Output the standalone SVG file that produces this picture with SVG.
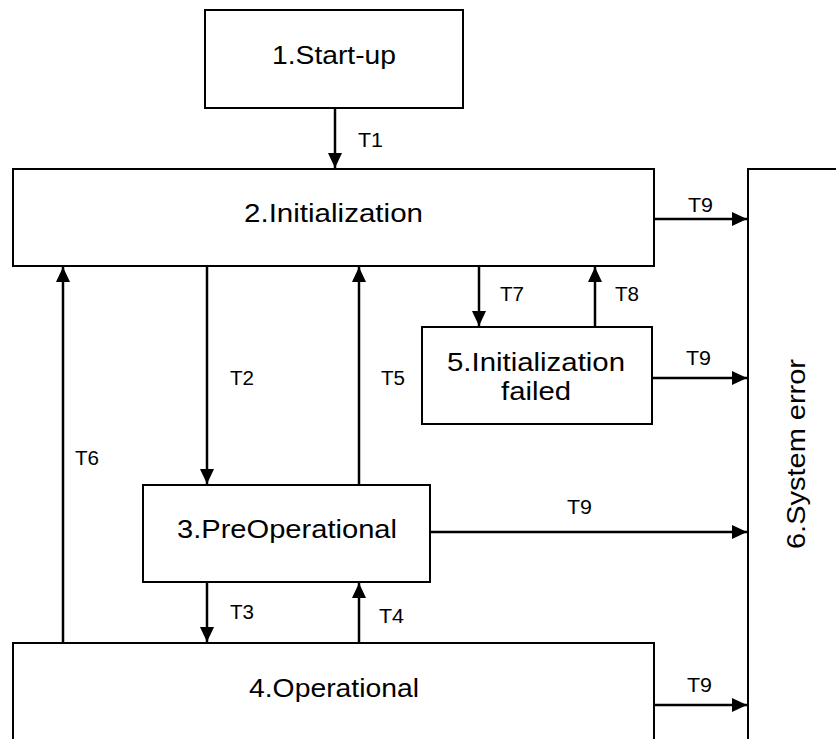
<svg xmlns="http://www.w3.org/2000/svg" width="836" height="739" viewBox="0 0 836 739">
  <style>
    .box { fill: #ffffff; stroke: #000000; stroke-width: 2; }
    .lbl { font-family: "Liberation Sans", Arial, sans-serif; font-size: 26px; fill: #000000; text-anchor: middle; }
    .tl { font-family: "Liberation Sans", Arial, sans-serif; font-size: 20px; fill: #000000; }
    .edge { fill: none; stroke: #000000; stroke-width: 2.5; marker-end: url(#arrow); }
  </style>
  <defs>
    <marker id="arrow" markerUnits="userSpaceOnUse" markerWidth="16" markerHeight="16" viewBox="0 0 16 16" refX="15" refY="8" orient="auto">
      <path d="M0,1 L15,8 L0,15 Z" fill="#000000"/>
    </marker>
  </defs>
  <rect width="836" height="739" fill="#ffffff"/>

  <g id="node-startup">
    <rect class="box" x="205" y="10" width="258" height="98"/>
    <text class="lbl" x="334" y="64" textLength="124" lengthAdjust="spacingAndGlyphs">1.Start-up</text>
  </g>

  <g id="node-initialization">
    <rect class="box" x="13" y="169" width="641" height="97"/>
    <text class="lbl" x="333.5" y="222" textLength="179" lengthAdjust="spacingAndGlyphs">2.Initialization</text>
  </g>

  <g id="node-preoperational">
    <rect class="box" x="143" y="485" width="287" height="97"/>
    <text class="lbl" x="287" y="538" textLength="220" lengthAdjust="spacingAndGlyphs">3.PreOperational</text>
  </g>

  <g id="node-operational">
    <rect class="box" x="13" y="643" width="641" height="120"/>
    <text class="lbl" x="334" y="697" textLength="170" lengthAdjust="spacingAndGlyphs">4.Operational</text>
  </g>

  <g id="node-init-failed">
    <rect class="box" x="422" y="327" width="230" height="97"/>
    <text class="lbl" x="536" y="371" textLength="178" lengthAdjust="spacingAndGlyphs">5.Initialization</text>
    <text class="lbl" x="536" y="400" textLength="70" lengthAdjust="spacingAndGlyphs">failed</text>
  </g>

  <g id="node-system-error">
    <rect class="box" x="748" y="169" width="110" height="600"/>
    <text class="lbl" transform="translate(805,454) rotate(-90)" x="0" y="0" textLength="190" lengthAdjust="spacingAndGlyphs">6.System error</text>
  </g>

  <g id="connectors">
    <path class="edge" d="M335,108 V168"/>
    <path class="edge" d="M207,266 V484"/>
    <path class="edge" d="M359,485 V267"/>
    <path class="edge" d="M63,643 V267"/>
    <path class="edge" d="M479,266 V326"/>
    <path class="edge" d="M595,327 V267"/>
    <path class="edge" d="M207,582 V642"/>
    <path class="edge" d="M359,643 V583"/>
    <path class="edge" d="M654,219 H747"/>
    <path class="edge" d="M652,378 H747"/>
    <path class="edge" d="M430,532 H747"/>
    <path class="edge" d="M654,705 H747"/>

    <text class="tl" x="358" y="147" textLength="25" lengthAdjust="spacingAndGlyphs">T1</text>
    <text class="tl" x="230" y="385" textLength="24" lengthAdjust="spacingAndGlyphs">T2</text>
    <text class="tl" x="381" y="385" textLength="24" lengthAdjust="spacingAndGlyphs">T5</text>
    <text class="tl" x="75" y="465" textLength="24" lengthAdjust="spacingAndGlyphs">T6</text>
    <text class="tl" x="500" y="301" textLength="24" lengthAdjust="spacingAndGlyphs">T7</text>
    <text class="tl" x="615" y="301" textLength="24" lengthAdjust="spacingAndGlyphs">T8</text>
    <text class="tl" x="688" y="212" textLength="25" lengthAdjust="spacingAndGlyphs">T9</text>
    <text class="tl" x="686" y="365" textLength="25" lengthAdjust="spacingAndGlyphs">T9</text>
    <text class="tl" x="567" y="514" textLength="25" lengthAdjust="spacingAndGlyphs">T9</text>
    <text class="tl" x="687" y="692" textLength="25" lengthAdjust="spacingAndGlyphs">T9</text>
    <text class="tl" x="230" y="619" textLength="24" lengthAdjust="spacingAndGlyphs">T3</text>
    <text class="tl" x="379" y="623" textLength="25" lengthAdjust="spacingAndGlyphs">T4</text>
  </g>
</svg>
